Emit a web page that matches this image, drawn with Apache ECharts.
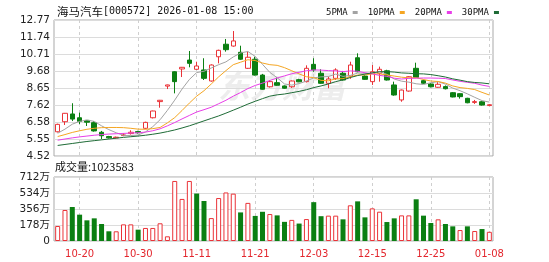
<!DOCTYPE html>
<html>
<head>
<meta charset="utf-8">
<script src="https://cdn.jsdelivr.net/npm/echarts@6/dist/echarts.min.js"></script>
<style>
html, body { margin: 0; padding: 0; background: #fff; }
#chart { width: 549px; height: 262px; }
</style>
</head>
<body>
<div id="chart"></div>
<script>
// Daily K-line of 海马汽车 (000572), 2025-10-15 .. 2026-01-08
const dates = ['10-15','10-16','10-17','10-20','10-21','10-22','10-23','10-24','10-27','10-28',
  '10-29','10-30','10-31','11-03','11-04','11-05','11-06','11-07','11-10','11-11',
  '11-12','11-13','11-14','11-17','11-18','11-19','11-20','11-21','11-24','11-25',
  '11-26','11-27','11-28','12-01','12-02','12-03','12-04','12-05','12-08','12-09',
  '12-10','12-11','12-12','12-15','12-16','12-17','12-18','12-19','12-22','12-23',
  '12-24','12-25','12-26','12-29','12-30','12-31','01-05','01-06','01-07','01-08'];

const opens = [5.99,6.60,7.07,6.84,6.68,6.54,5.96,5.70,5.62,5.76,
  5.88,6.00,6.20,6.84,7.82,8.76,9.63,9.80,10.34,9.78,
  9.74,9.07,10.54,11.30,11.19,10.81,9.84,10.39,9.43,8.72,
  8.97,8.77,8.72,9.15,9.03,10.08,9.54,8.93,9.23,9.54,
  9.37,10.48,9.37,9.03,9.54,9.69,8.83,7.92,8.46,9.84,
  9.09,8.89,8.69,8.73,8.36,8.30,8.02,7.77,7.81,7.58];
const closes = [6.44,7.11,6.76,6.62,6.57,6.04,5.75,5.62,5.66,5.80,
  5.96,5.93,6.56,7.25,7.90,8.83,9.03,9.90,10.14,9.98,
  9.23,10.04,10.93,10.97,11.50,10.39,10.51,9.43,8.57,9.03,
  8.81,8.63,9.07,9.02,9.84,9.74,8.93,9.19,9.74,9.13,
  10.04,9.63,9.17,9.63,9.78,9.13,8.22,8.52,9.33,9.29,
  8.93,8.72,8.87,8.60,8.10,8.12,7.75,7.82,7.61,7.63];
const lows = [5.95,6.40,6.64,6.46,6.34,6.00,5.55,5.58,5.60,5.72,
  5.82,5.88,6.15,6.80,7.45,8.58,8.32,9.31,9.90,9.75,
  9.13,9.03,10.14,10.85,11.15,10.35,9.80,9.40,8.55,8.67,
  8.78,8.60,8.65,9.00,8.98,9.63,8.90,8.63,9.14,9.10,
  9.20,9.60,9.15,8.83,9.03,9.10,8.18,7.81,8.42,9.25,
  8.90,8.68,8.66,8.56,8.08,8.00,7.72,7.68,7.58,7.55];
const highs = [6.48,7.13,7.72,7.15,6.70,6.64,6.04,5.74,5.70,5.90,
  6.08,6.05,6.60,7.27,7.92,8.85,9.66,9.92,10.89,10.24,
  10.45,10.08,10.97,11.62,12.10,11.21,10.85,10.54,9.50,9.12,
  9.29,8.80,9.10,9.20,10.02,10.45,9.78,9.33,9.84,9.68,
  10.24,10.75,9.42,10.04,9.94,9.75,9.03,8.55,9.37,10.18,
  9.15,8.95,9.00,8.80,8.40,8.32,8.05,7.92,7.85,7.66];

// volume in 万股
const volumes = [167,345,378,293,230,252,189,108,108,185,
  185,126,145,145,197,52,668,468,668,528,
  445,255,478,540,527,318,424,279,325,300,
  285,213,235,194,244,432,276,282,282,241,
  397,441,263,363,326,211,252,285,285,464,
  282,200,241,189,163,122,163,111,133,102.3583];

// moving averages of the close
const ma5 = [5.90,6.15,6.45,6.62,6.70,6.62,6.35,6.12,5.93,5.77,
  5.76,5.79,5.98,6.30,6.72,7.29,7.91,8.58,9.16,9.58,
  9.66,9.86,10.06,10.23,10.53,10.77,10.86,10.56,10.08,9.59,
  9.27,8.89,8.82,8.91,9.07,9.26,9.32,9.34,9.49,9.35,
  9.41,9.55,9.54,9.52,9.65,9.47,9.19,9.06,9.00,8.90,
  8.86,8.96,9.03,8.88,8.64,8.48,8.29,8.08,7.88,7.79];
const ma10 = [5.70,5.82,5.95,6.05,6.14,6.20,6.24,6.25,6.25,6.24,
  6.20,6.15,6.14,6.18,6.25,6.53,6.85,7.28,7.73,8.15,
  8.48,8.89,9.32,9.70,10.06,10.21,10.36,10.31,10.16,10.06,
  10.02,9.88,9.69,9.50,9.33,9.27,9.11,9.08,9.20,9.21,
  9.33,9.43,9.44,9.50,9.50,9.44,9.37,9.30,9.26,9.27,
  9.16,9.07,9.04,8.94,8.77,8.67,8.62,8.55,8.38,8.22];
const ma20 = [5.48,5.55,5.62,5.68,5.73,5.78,5.82,5.85,5.87,5.89,
  5.91,5.93,5.97,6.05,6.17,6.35,6.55,6.77,6.98,7.19,
  7.33,7.48,7.69,7.90,8.15,8.37,8.61,8.80,8.94,9.10,
  9.25,9.38,9.51,9.60,9.69,9.74,9.73,9.70,9.68,9.64,
  9.68,9.66,9.57,9.50,9.41,9.35,9.24,9.19,9.23,9.24,
  9.25,9.25,9.24,9.22,9.13,9.05,8.99,8.93,8.82,8.74];
const ma30 = [5.16,5.22,5.28,5.34,5.40,5.45,5.50,5.55,5.60,5.65,
  5.69,5.73,5.78,5.84,5.91,6.00,6.10,6.22,6.35,6.50,
  6.65,6.80,6.95,7.12,7.30,7.48,7.67,7.84,8.00,8.15,
  8.23,8.28,8.36,8.44,8.54,8.67,8.77,8.89,9.03,9.14,
  9.28,9.40,9.49,9.57,9.63,9.64,9.61,9.56,9.54,9.51,
  9.50,9.46,9.39,9.31,9.20,9.12,9.03,8.98,8.95,8.90];

const priceTicks = [4.52, 5.55, 6.58, 7.62, 8.65, 9.68, 10.71, 11.74, 12.77];
const volumeTicks = [0, 178, 356, 534, 712];
const labelDates = ['10-20','10-30','11-11','11-21','12-03','12-15','12-25','01-08'];
const maNames = ['5PMA', '10PMA', '20PMA', '30PMA'];

const UP = '#ea3338';
const DOWN = '#0b7f12';
const MA_COLORS = ['#a3a3a3', '#f5a623', '#e83ee8', '#1e6b36'];
const AXIS_FONT = 'DejaVu Sans, Noto Sans CJK SC, sans-serif';

const chart = echarts.init(document.getElementById('chart'), null, { renderer: 'canvas' });

const candleData = dates.map((d, i) => [opens[i], closes[i], lows[i], highs[i]]);

// volume colour follows the change against the previous close
const volumeData = volumes.map((v, i) => {
  const rising = i === 0 ? closes[i] >= opens[i] : closes[i] >= closes[i - 1];
  return {
    value: v,
    itemStyle: rising
      ? { color: '#fff', borderColor: UP, borderWidth: 1 }
      : { color: DOWN, borderColor: DOWN, borderWidth: 0 }
  };
});

const showDate = (idx, value) => labelDates.indexOf(value) >= 0;

const dashedSplit = {
  show: true,
  interval: showDate,
  alignWithLabel: true,
  lineStyle: { color: '#cfcfcf', type: [3, 3], width: 1 }
};

const lastVolume = Math.round(volumes[volumes.length - 1] * 10000);

const option = {
  animation: false,
  backgroundColor: '#fff',
  title: {
    left: 52,
    top: 1,
    text: '{a|海马汽车}{b|[000572] 2026-01-08 15:00}',
    textStyle: {
      fontWeight: 'normal',
      rich: {
        a: { fontFamily: 'Noto Sans CJK SC', fontSize: 11.5, fontWeight: 'normal', color: '#111' },
        b: { fontFamily: 'DejaVu Sans Mono', fontSize: 10, fontWeight: 'normal', color: '#111' }
      }
    }
  },
  legend: {
    data: maNames,
    left: 321,
    top: 3,
    align: 'right',
    icon: 'rect',
    itemWidth: 5,
    itemHeight: 3,
    itemGap: 10,
    selectedMode: false,
    textStyle: { fontFamily: 'DejaVu Sans Mono', fontSize: 9, color: '#111', padding: [0, 0, 0, 0] }
  },
  graphic: [
    {
      type: 'text',
      left: 218,
      top: 70,
      silent: true,
      z: 0,
      style: {
        text: '东方财富',
        font: 'italic bold 32px "Noto Sans CJK SC"',
        fill: 'rgba(190,190,190,0.28)'
      }
    },
    {
      type: 'text',
      left: 55,
      top: 161,
      silent: true,
      style: {
        text: '成交量:' + lastVolume,
        font: '11px "Noto Sans CJK SC"',
        fill: '#111'
      }
    }
  ],
  grid: [
    { left: 54, right: 56, top: 20, height: 136, show: true, borderColor: '#a9a9a9', borderWidth: 1 },
    { left: 54, right: 56, top: 177, height: 64, show: true, borderColor: '#a9a9a9', borderWidth: 1 }
  ],
  xAxis: [
    {
      type: 'category', gridIndex: 0, data: dates, boundaryGap: true,
      axisLine: { show: false }, axisTick: { show: false }, axisLabel: { show: false },
      splitLine: dashedSplit
    },
    {
      type: 'category', gridIndex: 1, data: dates, boundaryGap: true,
      axisLine: { show: false }, axisTick: { show: false },
      axisLabel: { interval: showDate, color: '#e3262d', fontSize: 10, fontFamily: AXIS_FONT, margin: 8 },
      splitLine: dashedSplit
    }
  ],
  yAxis: [
    {
      type: 'value', gridIndex: 0, min: 4.52, max: 12.77, scale: true,
      axisLine: { show: false },
      axisTick: { show: false, customValues: priceTicks },
      axisLabel: {
        customValues: priceTicks,
        formatter: v => v.toFixed(2),
        color: '#222', fontSize: 10.5, fontFamily: AXIS_FONT, margin: 4
      },
      splitLine: { show: true, lineStyle: { color: '#dcdcdc', width: 1 } }
    },
    {
      type: 'value', gridIndex: 1, min: volumeTicks[0], max: volumeTicks[volumeTicks.length - 1],
      interval: volumeTicks[1] - volumeTicks[0],
      axisLine: { show: false }, axisTick: { show: false },
      axisLabel: {
        formatter: v => (v === 0 ? '0' : v + '万'),
        color: '#222', fontSize: 10.5, fontFamily: AXIS_FONT, margin: 4
      },
      splitLine: { show: true, lineStyle: { color: '#dcdcdc', width: 1 } }
    }
  ],
  series: [
    {
      type: 'candlestick', name: 'K', xAxisIndex: 0, yAxisIndex: 0,
      data: candleData, barWidth: 5,
      itemStyle: { color: '#fff', color0: DOWN, borderColor: UP, borderColor0: DOWN, borderWidth: 1 },
      z: 3
    },
    ...[ma5, ma10, ma20, ma30].map((arr, k) => ({
      type: 'line', name: maNames[k], xAxisIndex: 0, yAxisIndex: 0,
      data: arr, showSymbol: false, symbol: 'none', silent: true,
      itemStyle: { color: MA_COLORS[k] },
      lineStyle: { color: MA_COLORS[k], width: 1 },
      z: 4
    })),
    {
      type: 'bar', name: 'VOL', xAxisIndex: 1, yAxisIndex: 1,
      data: volumeData, barWidth: 5
    }
  ]
};

chart.setOption(option);
</script>
</body>
</html>
